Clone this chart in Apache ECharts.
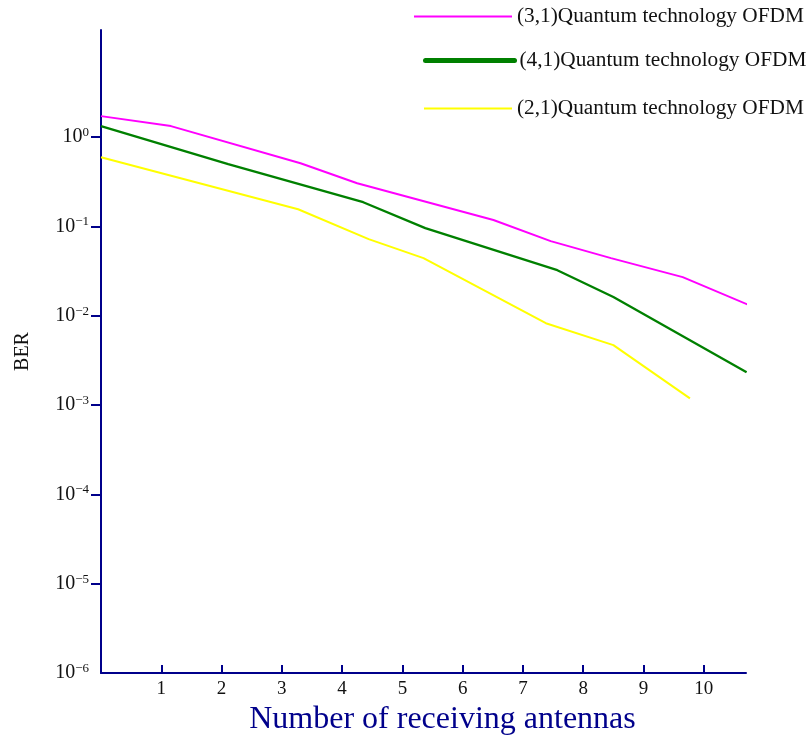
<!DOCTYPE html>
<html>
<head>
<meta charset="utf-8">
<script src="https://cdn.jsdelivr.net/npm/echarts@6/dist/echarts.min.js"></script>
<style>html,body{margin:0;padding:0;background:#fff}#c{width:810px;height:738px}</style>
</head>
<body>
<div id="c"></div>
<script>
// Data (x = number of receiving antennas, y = BER)
const seriesNames = ['(3,1)Quantum technology OFDM', '(4,1)Quantum technology OFDM', '(2,1)Quantum technology OFDM'];
const magentaX = [0, 1.16, 3.31, 4.25, 6.51, 7.46, 8.46, 9.65, 10.83];
const magentaY = [1.72, 1.33, 0.51, 0.305, 0.118, 0.0685, 0.0442, 0.0271, 0.0125];
const greenX = [0, 2.11, 4.35, 5.38, 7.57, 8.50, 10.71];
const greenY = [1.33, 0.499, 0.187, 0.0957, 0.0324, 0.0162, 0.00233];
const yellowX = [0, 3.27, 4.44, 5.35, 7.38, 8.50, 9.77];
const yellowY = [0.597, 0.156, 0.0721, 0.0442, 0.00826, 0.00469, 0.00119];
const xTicks = [1, 2, 3, 4, 5, 6, 7, 8, 9, 10];
const yTicks = [1e-6, 1e-5, 1e-4, 1e-3, 1e-2, 1e-1, 1];
const yExponents = ['−6', '−5', '−4', '−3', '−2', '−1', '0'];

const pairs = (xs, ys) => xs.map((x, i) => [x, ys[i]]);
const serif = 'Liberation Serif, Times New Roman, serif';
const navy = '#00008b';

const chart = echarts.init(document.getElementById('c'), null, {renderer: 'canvas'});
const legendBase = {
  orient: 'vertical', itemHeight: 14, padding: 0,
  itemStyle: {opacity: 0},
  textStyle: {fontFamily: serif, fontSize: 21.3, color: '#111'},
  selectedMode: false
};
chart.setOption({
  animation: false,
  backgroundColor: '#fff',
  grid: {left: 101, right: 64, top: 30, bottom: 65, containLabel: false, outerBoundsMode: 'none'},
  legend: [
    Object.assign({}, legendBase, {left: 413, top: 6, itemWidth: 98, data: [{name: seriesNames[0]}]}),
    Object.assign({}, legendBase, {left: 423, top: 50, itemWidth: 89, data: [{name: seriesNames[1], lineStyle: {width: 5, cap: 'round'}}]}),
    Object.assign({}, legendBase, {left: 423, top: 98, itemWidth: 88, data: [{name: seriesNames[2]}]})
  ],
  xAxis: {
    type: 'value', min: 0, max: 10.7,
    name: 'Number of receiving antennas', nameLocation: 'middle', nameGap: 31,
    nameTextStyle: {fontFamily: serif, fontSize: 32, color: navy, padding: [0, 0, 0, 38]},
    axisLine: {show: true, onZero: false, lineStyle: {color: navy, width: 2}},
    axisTick: {show: true, inside: true, length: 8, customValues: xTicks, lineStyle: {color: navy, width: 2}},
    axisLabel: {customValues: xTicks, fontFamily: serif, fontSize: 19, color: '#111', margin: 7},
    splitLine: {show: false}
  },
  yAxis: {
    type: 'log', logBase: 10, min: 1e-6, max: 15.85,
    name: 'BER', nameLocation: 'middle', nameGap: 68, nameRotate: 90,
    nameTextStyle: {fontFamily: serif, fontSize: 20, color: '#111'},
    axisLine: {show: true, onZero: false, lineStyle: {color: navy, width: 2}},
    axisTick: {show: true, inside: false, length: 10, customValues: yTicks.slice(1), lineStyle: {color: navy, width: 2}},
    axisLabel: {
      customValues: yTicks, margin: 12,
      formatter: function (v) {
        const i = yTicks.findIndex(t => Math.abs(Math.log10(t) - Math.log10(v)) < 1e-6);
        return '{b|10}{s|' + (i >= 0 ? yExponents[i] : '') + '}';
      },
      rich: {
        b: {fontFamily: serif, fontSize: 20, color: '#111', lineHeight: 22},
        s: {fontFamily: serif, fontSize: 13, color: '#111', verticalAlign: 'top', lineHeight: 13}
      }
    },
    splitLine: {show: false}
  },
  series: [
    {name: seriesNames[0], type: 'line', data: pairs(magentaX, magentaY), symbol: 'none', clip: false,
     lineStyle: {color: '#ff00ff', width: 2}, itemStyle: {color: '#ff00ff'}},
    {name: seriesNames[1], type: 'line', data: pairs(greenX, greenY), symbol: 'none', clip: false,
     lineStyle: {color: '#008000', width: 2.3}, itemStyle: {color: '#008000'}},
    {name: seriesNames[2], type: 'line', data: pairs(yellowX, yellowY), symbol: 'none', clip: false,
     lineStyle: {color: '#ffff00', width: 2}, itemStyle: {color: '#ffff00'}}
  ]
});
</script>
</body>
</html>
